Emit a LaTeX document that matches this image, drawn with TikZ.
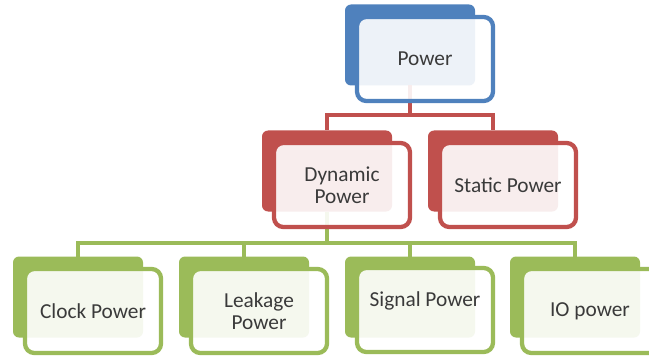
\documentclass[tikz,border=0pt]{standalone}
\usepackage{fontspec}
\setmainfont{Carlito}
\definecolor{oblue}{HTML}{4F81BD}
\definecolor{ored}{HTML}{C0504D}
\definecolor{ogreen}{HTML}{9BBB59}
\definecolor{txt}{HTML}{3A3A3A}
\begin{document}
\begin{tikzpicture}[x=0.75pt,y=-0.75pt,
  backbox/.style={rectangle,rounded corners=4.5pt,fill=#1,draw=none,
    minimum width=97.5pt,minimum height=60.75pt,inner sep=0pt,outer sep=0pt},
  frontbox/.style={rectangle,rounded corners=7pt,draw=#1,line width=3.2pt,
    fill=white,fill opacity=0.9,text opacity=1,
    minimum width=102pt,minimum height=63pt,inner sep=0pt,outer sep=0pt,
    align=center,text=txt,font=\fontsize{16pt}{16.5pt}\selectfont},
  conn/.style={draw=#1,line width=3.2pt}]
\useasboundingbox (0,0) rectangle (649,356);
% back rectangles
\node[backbox=oblue]  (pb)  at (410,45)  {};
\node[backbox=ored]   (db)  at (327,171) {};
\node[backbox=ored]   (sb)  at (493,171) {};
\node[backbox=ogreen] (cb)  at (78,297)  {};
\node[backbox=ogreen] (lb)  at (244,297) {};
\node[backbox=ogreen] (gb)  at (410,297) {};
\node[backbox=ogreen] (ib)  at (575,297) {};
% connectors
\coordinate (rj) at (410,115);
\coordinate (gj) at (327,243);
\draw[conn=ored] (pb.south) -- (rj) -| (db.north);
\draw[conn=ored] (rj) -| (sb.north);
\draw[conn=ogreen] (db.south) -- (gj) -| (cb.north);
\draw[conn=ogreen] (gj) -| (lb.north);
\draw[conn=ogreen] (gj) -| (gb.north);
\draw[conn=ogreen] (gj) -| (ib.north);
% front boxes
\node[frontbox=oblue]  (pf) at (425,59)  {Power};
\node[frontbox=ored]   (df) at (342,185) {Dynamic\\Power};
\node[frontbox=ored]   (sf) at (508,185) {Static Power};
\node[frontbox=ogreen] (cf) at (93,311)  {Clock Power};
\node[frontbox=ogreen] (lf) at (259,311) {Leakage\\Power};
\node[frontbox=ogreen] (gf) at (425,310) {Signal Power\\\mbox{}};
\node[frontbox=ogreen] (iff) at (590,311) {IO power};
\end{tikzpicture}
\end{document}
